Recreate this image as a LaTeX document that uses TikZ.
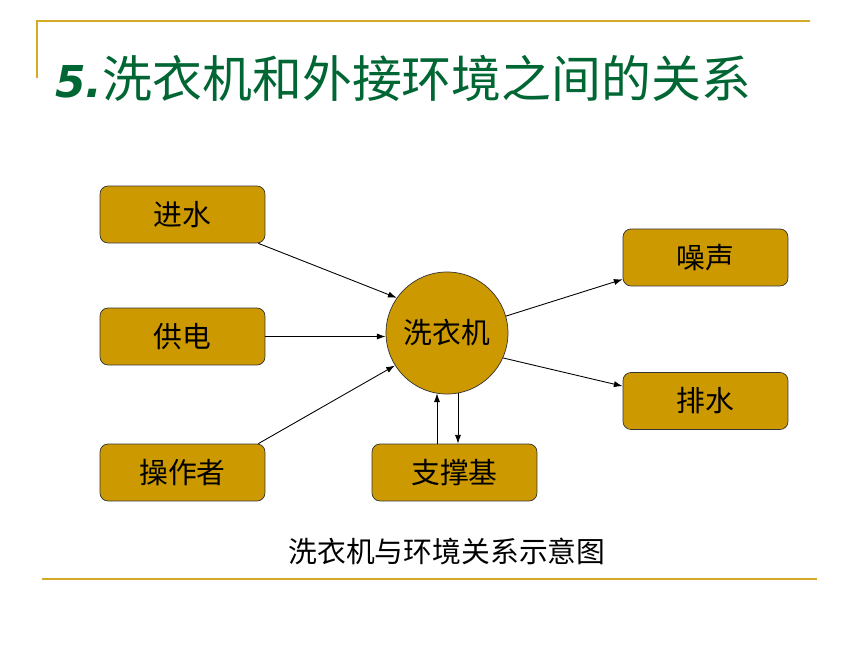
\documentclass[tikz,border=0pt]{standalone}
\usepackage{fontspec}
\setmainfont{Noto Sans CJK SC}
\newfontfamily\numfont{DejaVu Sans}
\usetikzlibrary{arrows.meta}

\definecolor{gold}{RGB}{204,153,0}
\definecolor{rulegold}{RGB}{214,170,40}
\definecolor{titlegreen}{RGB}{0,102,51}

\begin{document}
\begin{tikzpicture}[x=0.02cm, y=-0.02cm,
	part/.style={draw=black!80, fill=gold, rounded corners=0.16cm,
		minimum width=3.3cm, minimum height=1.14cm, inner sep=0pt,
		font=\fontsize{16.4}{19}\selectfont},
	link/.style={-{Latex[length=5pt,width=3.5pt]}, black, line width=0.5pt}]

	% page frame
	\useasboundingbox (0,0) rectangle (860,645);
	\fill[white] (0,0) rectangle (860,645);

	% decoration lines
	\draw[rulegold, line width=1.2pt] (37,78) -- (37,21) -- (810,21);
	\draw[rulegold, line width=1.2pt] (42,579) -- (817,579);

	% title
	\node[anchor=base west, titlegreen, inner sep=0pt,
		font=\fontsize{28.4}{32}\selectfont] (title) at (55,98)
		{{\numfont\bfseries\itshape\fontsize{25}{30}\selectfont 5.}洗衣机和外接环境之间的关系};

	% machine
	\node[draw=black!80, fill=gold, circle, minimum size=2.44cm, inner sep=0pt,
		font=\fontsize{16.4}{19}\selectfont] (wash) at (447,333) {洗衣机};

	% inputs
	\node[part] (jinshui)  at (182.5,214.5) {进水};
	\node[part] (gongdian) at (182.5,336.5) {供电};
	\node[part] (caozuo)   at (182.5,472.5) {操作者};
	\node[part] (zhicheng) at (454.5,472.5) {支撑基};

	% outputs
	\node[part] (zaosheng) at (705.5,257.5) {噪声};
	\node[part] (paishui)  at (705.5,401) {排水};

	% arrows in
	\draw[link] ([xshift=-0.14cm]jinshui.south east) -- (wash.145);
	\draw[link] (gongdian.east) -- (gongdian.east -| wash.west);
	\draw[link] ([xshift=-0.14cm]caozuo.north east) -- (wash.212);

	% arrows out
	\draw[link] (wash.16) -- ([yshift=0.14cm]zaosheng.south west);
	\draw[link] (wash.-24) -- ([yshift=-0.28cm]paishui.north west);

	% support
	\draw[link] ([xshift=-0.2cm]wash.south |- zhicheng.north) -- ([xshift=-0.2cm,yshift=0.02cm]wash.south);
	\draw[link] ([xshift=0.22cm,yshift=0.02cm]wash.south) -- ([xshift=0.22cm]wash.south |- zhicheng.north);

	% caption
	\node[font=\fontsize{16.4}{19}\selectfont] (caption) at (447,551) {洗衣机与环境关系示意图};

\end{tikzpicture}
\end{document}
